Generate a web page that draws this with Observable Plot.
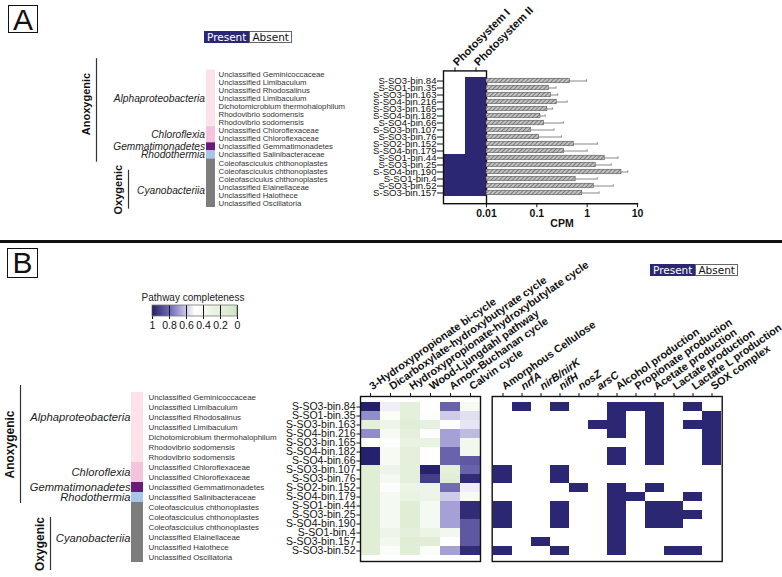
<!DOCTYPE html>
<html><head><meta charset="utf-8">
<script src="https://cdn.jsdelivr.net/npm/d3@7"></script>
<script src="https://cdn.jsdelivr.net/npm/@observablehq/plot@0.6"></script>
<style>
body{margin:0;background:#fff;}
#fig{position:relative;width:782px;height:577px;overflow:hidden;font-family:"Liberation Sans",Arial,sans-serif;background:#fff;}
#fig svg.layer{position:absolute;left:0;top:0;}
.tag{position:absolute;border:1.3px solid #111;font-size:30px;line-height:28px;text-align:center;box-sizing:border-box;color:#111;}
.pa{position:absolute;display:flex;font-family:"DejaVu Sans",sans-serif;font-size:10.5px;line-height:10px;}
.pa .p{background:#2b2773;color:#fff;padding:0 2px;border:1px solid #2b2773;}
.pa .a{background:#fff;color:#111;border:1px solid #666;padding:0 2px;}
.divider{position:absolute;left:0;top:240px;width:782px;height:2.5px;background:#111;}
.ltitle{position:absolute;font-size:10px;color:#222;}
</style></head><body><div id="fig"></div>
<script>
// ---------------- DATA ----------------
const genera = ["Unclassified Geminicoccaceae","Unclassified Limibaculum","Unclassified Rhodosalinus","Unclassified Limibaculum","Dichotomicrobium thermohalophilum","Rhodovibrio sodomensis","Rhodovibrio sodomensis","Unclassified Chloroflexaceae","Unclassified Chloroflexaceae","Unclassified Gemmatimonadetes","Unclassified Salinibacteraceae","Coleofasciculus chthonoplastes","Coleofasciculus chthonoplastes","Coleofasciculus chthonoplastes","Unclassified Elainellaceae","Unclassified Halothece","Unclassified Oscillatoria"];
const classes = ["Alphaproteobacteria","Chloroflexia","Gemmatimonadetes","Rhodothermia","Cyanobacteriia"];
const classSizes = [7,2,1,1,6];
const groups = ["Anoxygenic","Oxygenic"];
const groupSizes = [11,6];

const binsA = ["S-SO3-bin.84","S-SO1-bin.35","S-SO3-bin.163","S-SO4-bin.216","S-SO3-bin.165","S-SO4-bin.182","S-SO4-bin.66","S-SO3-bin.107","S-SO3-bin.76","S-SO2-bin.152","S-SO4-bin.179","S-SO1-bin.44","S-SO3-bin.25","S-SO4-bin.190","S-SO1-bin.4","S-SO3-bin.52","S-SO3-bin.157"];
const photosystems = ["Photosystem I","Photosystem II"];
const photosystemI  = [0,0,0,0,0,0,0,0,0,0,0,1,1,1,1,1,1];
const photosystemII = [1,1,1,1,1,1,1,1,1,1,1,1,1,1,1,1,1];
const cpmMean  = [0.455,0.173,0.19,0.248,0.162,0.118,0.14,0.077,0.11,0.55,0.35,2.23,1.48,4.8,0.59,1.35,0.8];
const cpmError = [0.515,0.067,0.07,0.152,0.042,0.028,0.196,0.143,0.2,1.05,0.65,1.87,1.52,1.6,0.99,1.95,0.92];
const cpmTicks = [0.01,0.1,1,10];

const binsB = ["S-SO3-bin.84","S-SO1-bin.35","S-SO3-bin.163","S-SO4-bin.216","S-SO3-bin.165","S-SO4-bin.182","S-SO4-bin.66","S-SO3-bin.107","S-SO3-bin.76","S-SO2-bin.152","S-SO4-bin.179","S-SO1-bin.44","S-SO3-bin.25","S-SO4-bin.190","S-SO1-bin.4","S-SO3-bin.157","S-SO3-bin.52"];
const pathways = ["3-Hydroxypropionate bi-cycle","Dicarboxylate-hydroxybutyrate cycle","Hydroxypropionate-hydroxybutylate cycle","Wood-Ljungdahl pathway","Arnon-Buchanan cycle","Calvin cycle"];
const completeness = [
  [1.00,0.53,0.20,0.50,0.82,0.40],
  [0.72,0.45,0.20,0.47,0.60,0.56],
  [0.20,0.30,0.15,0.22,0.50,0.55],
  [0.72,0.40,0.20,0.48,0.68,0.63],
  [0.50,0.47,0.25,0.25,0.68,0.35],
  [1.00,0.40,0.20,0.50,0.82,0.35],
  [1.00,0.40,0.20,0.50,0.82,0.85],
  [0.15,0.30,0.20,1.00,0.20,0.82],
  [0.15,0.38,0.20,0.92,0.15,0.97],
  [0.15,0.47,0.28,0.30,0.80,0.53],
  [0.15,0.38,0.25,0.30,0.60,0.40],
  [0.15,0.38,0.15,0.38,0.68,0.97],
  [0.15,0.38,0.15,0.38,0.68,0.97],
  [0.15,0.38,0.15,0.38,0.68,0.85],
  [0.15,0.30,0.20,0.28,0.35,0.85],
  [0.15,0.35,0.15,0.15,0.50,0.85],
  [0.15,0.45,0.15,0.45,0.68,0.97]
];
const completenessTicks = [1,0.8,0.6,0.4,0.2,0];
const genes = ["Amorphous Cellulose","nrfA","nirB/nirK","nifH","nosZ","arsC","Alcohol production","Propionate production","Acetate production","Lactate production","Lactate L production","SOX complex"];
const italicGenes = ["nrfA","nirB/nirK","nifH","nosZ","arsC"];
const genePresence = [
  [0,1,0,1,0,0,1,1,1,0,1,0],
  [0,0,0,0,0,0,1,0,1,0,0,1],
  [0,0,0,0,0,1,1,0,1,0,1,1],
  [0,0,0,0,0,0,1,0,1,0,0,1],
  [0,0,0,0,0,0,0,0,1,0,0,1],
  [0,0,0,0,0,0,1,0,1,0,0,1],
  [0,0,0,0,0,0,1,0,1,0,0,1],
  [1,0,0,1,0,0,0,0,0,0,0,0],
  [1,0,0,1,0,0,0,0,0,0,0,0],
  [0,0,0,0,1,0,1,0,1,0,0,0],
  [0,0,0,0,0,0,1,1,0,0,1,0],
  [1,0,0,1,0,0,1,0,1,1,0,0],
  [1,0,0,1,0,0,1,0,1,1,1,0],
  [1,0,0,1,0,0,1,0,1,1,0,0],
  [0,0,0,0,0,0,1,0,0,0,0,0],
  [0,0,1,0,0,0,1,0,0,0,0,0],
  [1,0,0,1,0,0,1,0,0,1,1,0]
];

// ---------------- STYLE / LAYOUT ----------------
const NAVY = "#2b2773";
const classColors = {Alphaproteobacteria:"#fde2e9", Chloroflexia:"#f6c3dc", Gemmatimonadetes:"#6b1a7c", Rhodothermia:"#a8c6ea", Cyanobacteriia:"#7d7d7d"};
const FONT = "Liberation Sans, Arial, sans-serif";
const W = 782, H = 577;
const baseStyle = {background:"transparent", overflow:"visible", fontFamily:FONT, color:"#111"};
const ramp = d3.scaleLinear().domain([0,0.5,0.75,1]).range(["#d3e6c5","#ffffff","#827dc3","#26216c"]).clamp(true);
const rampRev = t => ramp(1 - t);

const LEFT = {
  A: {strip:[206,215], rows:[69.5,207], genusDx:7.5, genusSize:7.8, classDx:-6, classSize:10.2,
      classShift:{Cyanobacteriia:0.9}, groupDx:{Anoxygenic:-114.5, Oxygenic:-82.5},
      groupExt:{Anoxygenic:[-1.9,0.9], Oxygenic:[0.9,0.7]}, labelShift:{Anoxygenic:-0.8, Oxygenic:0},
      labelGap:10, groupSize:11, cyanoItalic:false},
  B: {strip:[131,143], rows:[392,562], genusDx:11, genusSize:7.9, classDx:-7, classSize:11.2,
      classShift:{Alphaproteobacteria:-1, Cyanobacteriia:0.6}, groupDx:{Anoxygenic:-117, Oxygenic:-87},
      groupExt:{Anoxygenic:[-1.2,0.6], Oxygenic:[1,1.3]}, labelShift:{Anoxygenic:0, Oxygenic:0},
      labelGap:10, groupSize:12, cyanoItalic:true}
};

// ---------------- DERIVED TABLES ----------------
const genusRows = genera.map((g,i)=>({genus:g, i}));
function spans(names, sizes){ let s=0; return names.map((n,k)=>{const r={name:n, first:s, last:s+sizes[k]-1}; s+=sizes[k]; return r;}); }
const classRows = spans(classes, classSizes);
const groupRows = spans(groups, groupSizes);
const psData = binsA.flatMap((b,i)=>[{bin:b, ps:photosystems[0], v:photosystemI[i]},{bin:b, ps:photosystems[1], v:photosystemII[i]}]);
const cpmData = binsA.map((b,i)=>({bin:b, mean:cpmMean[i], err:cpmError[i]}));
const compData = binsB.flatMap((b,i)=>pathways.map((p,j)=>({bin:b, pathway:p, v:completeness[i][j]})));
const geneData = binsB.flatMap((b,i)=>genes.map((g,j)=>({bin:b, gene:g, v:genePresence[i][j]})));

const fig = document.getElementById("fig");
function add(el){ el.classList.add("layer"); fig.appendChild(el); return el; }

// ---------------- LEFT TAXONOMY ----------------
function leftPlot(L){
  const marks = [
    Plot.barY(classRows, {x:()=>"strip", y1:d=>d.first-0.5, y2:d=>d.last+0.5, fill:d=>classColors[d.name]}),
    Plot.text(genusRows, {x:()=>"strip", y:"i", text:"genus", textAnchor:"start", dx:L.genusDx, fontSize:L.genusSize, fill:"#333", ariaLabel:"genus"}),
    Plot.text(classRows, {x:()=>"strip", y:d=>(d.first+d.last)/2+(L.classShift[d.name]||0), text:"name", textAnchor:"end", dx:L.classDx, fontSize:L.classSize, fontStyle:"italic", fill:"#222", ariaLabel:"class"})
  ];
  for (const g of groupRows){
    const [e0,e1] = L.groupExt[g.name];
    marks.push(Plot.ruleX([g], {x:()=>"strip", y1:d=>d.first+e0, y2:d=>d.last+e1, dx:L.groupDx[g.name], stroke:"#333", strokeWidth:1.2}));
    marks.push(Plot.text([g], {x:()=>"strip", y:d=>(d.first+e0+d.last+e1)/2+L.labelShift[g.name], text:"name", rotate:-90, dx:L.groupDx[g.name]-L.labelGap, fontWeight:"bold", fontSize:L.groupSize, fill:"#111"}));
  }
  const svg = Plot.plot({width:W, height:H, margin:0, style:baseStyle,
    x:{type:"band", domain:["strip"], range:L.strip, padding:0, axis:null},
    y:{type:"linear", domain:[-0.5,16.5], range:L.rows, axis:null},
    color:{type:"identity"}, marks});
  d3.select(svg).selectAll('g[aria-label="genus"] text').each(function(){
    const t = this.textContent, s = d3.select(this);
    if (t.startsWith("Unclassified ")){ s.text(null); s.append("tspan").text("Unclassified "); s.append("tspan").attr("font-style","italic").text(t.slice(13)); }
    else s.attr("font-style","italic");
  });
  if (!L.cyanoItalic) d3.select(svg).selectAll('g[aria-label="class"] text').filter(function(){return this.textContent==="Cyanobacteriia";}).attr("font-style","normal");
  return svg;
}
add(leftPlot(LEFT.A));
add(leftPlot(LEFT.B));

// ---------------- PANEL A: photosystems ----------------
add(Plot.plot({width:W, height:H, style:baseStyle,
  marginLeft:443, marginRight:W-486, marginTop:70.4, marginBottom:H-203.2,
  x:{domain:photosystems, padding:0, label:null},
  y:{domain:binsA, padding:0, label:null},
  color:{type:"identity"},
  marks:[
    Plot.cell(psData, {x:"ps", y:"bin", fill:d=>d.v ? NAVY : "#ffffff", inset:0}),
    Plot.frame({stroke:"#111", strokeWidth:1.4}),
    Plot.axisY({tickSize:6, tickPadding:1, fontSize:9.6, label:null}),
    Plot.axisX({anchor:"top", tickSize:4, tickPadding:3, tickRotate:-45, textAnchor:"start", fontSize:11, fontWeight:"bold", label:null})
  ]}));

// ---------------- PANEL A: CPM bars ----------------
add(Plot.plot({width:W, height:H, style:baseStyle,
  marginLeft:486, marginRight:W-637, marginTop:70.4, marginBottom:H-203.2,
  x:{type:"log", domain:[0.01,10], label:null},
  y:{domain:binsA, padding:0, label:null, axis:null},
  marks:[
    () => { const d = d3.create("svg:defs");
      const p = d.append("pattern").attr("id","hatchA").attr("patternUnits","userSpaceOnUse").attr("width",3).attr("height",3).attr("patternTransform","rotate(45)");
      p.append("rect").attr("width",3).attr("height",3).attr("fill","#c2c2c2");
      p.append("line").attr("x1",0.5).attr("y1",0).attr("x2",0.5).attr("y2",3).attr("stroke","#7c7c7c").attr("stroke-width",1);
      return d.node(); },
    Plot.barX(cpmData, {x1:0.01, x2:"mean", y:"bin", fill:"url(#hatchA)", stroke:"#444", strokeWidth:0.5, insetTop:1.2, insetBottom:1.2}),
    Plot.ruleY(cpmData, {x1:"mean", x2:d=>d.mean+d.err, y:"bin", stroke:"#555", strokeWidth:0.7}),
    Plot.tickX(cpmData, {x:d=>d.mean+d.err, y:"bin", stroke:"#555", strokeWidth:0.7, insetTop:2.3, insetBottom:2.3}),
    Plot.frame({anchor:"bottom", stroke:"#111", strokeWidth:1.4}),
    Plot.axisX({ticks:cpmTicks, tickFormat:d=>String(d), tickSize:4, tickPadding:2, fontSize:10.5, fontWeight:"bold", label:null}),
    Plot.text(["CPM"], {frameAnchor:"bottom", dy:23, text:d=>d, fontWeight:"bold", fontSize:10.5})
  ]}));

// ---------------- PANEL B: pathway completeness ----------------
add(Plot.plot({width:W, height:H, style:baseStyle,
  marginLeft:360, marginRight:W-480, marginTop:396, marginBottom:H-561,
  x:{domain:pathways, padding:0, label:null},
  y:{domain:binsB, padding:0, label:null},
  color:{type:"linear", domain:[0,1], interpolate:ramp},
  marks:[
    Plot.cell(compData, {x:"pathway", y:"bin", fill:"v", inset:0}),
    Plot.frame({stroke:"#111", strokeWidth:1.4}),
    Plot.axisY({tickSize:3.5, tickPadding:1.5, fontSize:10.5, label:null}),
    Plot.axisX({anchor:"top", tickSize:4, tickPadding:5, tickRotate:-35, textAnchor:"start", fontSize:10.8, fontWeight:"bold", label:null})
  ]}));

// ---------------- PANEL B: gene presence ----------------
add(Plot.plot({width:W, height:H, style:baseStyle,
  marginLeft:491.7, marginRight:W-721.7, marginTop:396, marginBottom:H-561,
  x:{domain:genes, padding:0, label:null},
  y:{domain:binsB, padding:0, label:null, axis:null},
  marks:[
    Plot.cell(geneData.filter(d=>d.v===1), {x:"gene", y:"bin", fill:NAVY, inset:0}),
    Plot.frame({stroke:"#111", strokeWidth:1.4}),
    Plot.axisX({anchor:"top", ticks:genes.filter(g=>!italicGenes.includes(g)), tickSize:4, tickPadding:5, tickRotate:-35, textAnchor:"start", fontSize:10.8, fontWeight:"bold", label:null}),
    Plot.axisX({anchor:"top", ticks:italicGenes, tickSize:4, tickPadding:5, tickRotate:-35, textAnchor:"start", fontSize:10.8, fontWeight:"bold", fontStyle:"italic", label:null})
  ]}));

// ---------------- LEGENDS ----------------
const leg = Plot.legend({color:{type:"linear", domain:[1,0], interpolate:rampRev},
  width:95, height:30, marginTop:2, marginBottom:17, marginLeft:5, marginRight:5,
  ticks:completenessTicks, tickFormat:d=>String(d), tickSize:3, label:null,
  style:{background:"transparent", fontFamily:FONT, fontSize:"10.5px", color:"#111", overflow:"visible"}});
leg.style.position="absolute"; leg.style.left="147px"; leg.style.top="303px";
d3.select(leg).append("rect").attr("x",5).attr("y",2).attr("width",85).attr("height",11).attr("fill","none").attr("stroke","#777").attr("stroke-width",0.8);
fig.appendChild(leg);

fig.insertAdjacentHTML("beforeend", `
<div class="tag" style="left:8px;top:5px;width:30px;height:28px;">A</div>
<div class="tag" style="left:7px;top:248px;width:31px;height:30px;">B</div>
<div class="divider"></div>
<div class="pa" style="left:204px;top:31px;"><span class="p">Present</span><span class="a">Absent</span></div>
<div class="pa" style="left:650px;top:264px;"><span class="p">Present</span><span class="a">Absent</span></div>
<div class="ltitle" style="left:133px;top:292px;width:120px;text-align:center;">Pathway completeness</div>
`);
</script></body></html>
